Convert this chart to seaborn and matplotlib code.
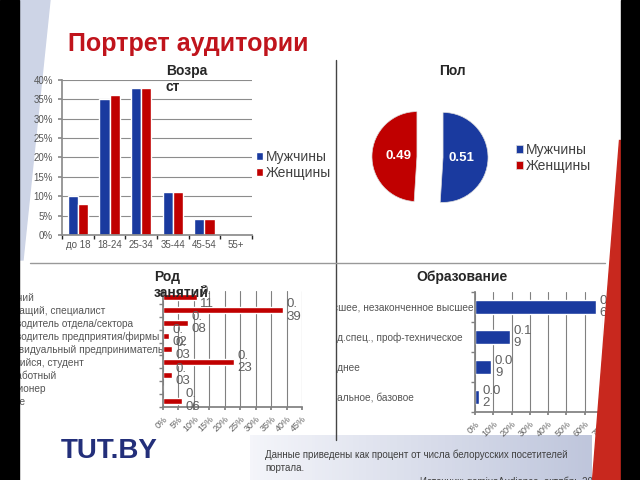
import numpy as np
import pandas as pd
import matplotlib
matplotlib.use("Agg")
import matplotlib.pyplot as plt
import seaborn as sns
from matplotlib.patches import Rectangle, Polygon
from matplotlib.lines import Line2D
from matplotlib.ticker import PercentFormatter
from matplotlib.colors import LinearSegmentedColormap

# Data
ages = ["до 18", "18-24", "25-34", "35-44", "45-54", "55+"]
male_age = [10, 35, 38, 11, 4, 0]
female_age = [8, 36, 38, 11, 4, 0]

sex_labels = ["Мужчины", "Женщины"]
sex_share = [0.51, 0.49]

occ = ["Рабочий", "Служащий, специалист", "Руководитель отдела/сектора",
       "Руководитель предприятия/фирмы", "Индивидуальный предприниматель",
       "Учащийся, студент", "Безработный", "Пенсионер", "Другое"]
occ_share = [0.11, 0.39, 0.08, 0.02, 0.03, 0.23, 0.03, 0.00, 0.06]

edu = ["Высшее, незаконченное высшее", "Сред.спец., проф-техническое",
       "Среднее", "Начальное, базовое"]
edu_share = [0.66, 0.19, 0.09, 0.02]

BLUE = "#1a3a9f"
RED = "#c00000"
GREY = "#555555"

sns.set_theme(style="white")
plt.rcParams['font.family'] = ['Liberation Sans', 'DejaVu Sans']

W, H = 640, 480
def fx(x): return x / W
def fy(y): return 1 - y / H
def box(x0, y0, x1, y1): return [x0 / W, 1 - y1 / H, (x1 - x0) / W, (y1 - y0) / H]

fig = plt.figure(figsize=(6.4, 4.8), dpi=100)

# slide decoration
fig.add_artist(Polygon([(fx(19), fy(0)), (fx(50), fy(0)), (fx(23), fy(260)), (fx(19), fy(260))],
                       closed=True, transform=fig.transFigure, color="#cdd4e6", zorder=-1))
band = fig.add_axes(box(250, 435, 592, 480), zorder=-1)
cmap = LinearSegmentedColormap.from_list("band", ["#f4f5fa", "#bfc6dc"])
band.imshow(np.linspace(0, 1, 100).reshape(1, -1), cmap=cmap, aspect="auto")
band.axis("off")

fig.text(fx(68), fy(51), "Портрет аудитории", fontsize=18, fontweight="bold",
         color="#c0141c", va="baseline")

# 1. Age
ax1 = fig.add_axes(box(62, 80, 252, 235))
age_df = pd.DataFrame({"age": ages * 2,
                       "sex": ["Мужчины"] * len(ages) + ["Женщины"] * len(ages),
                       "share": [v / 100 for v in male_age + female_age]})
sns.barplot(data=age_df, x="age", y="share", hue="sex", palette=[BLUE, RED],
            saturation=1, width=0.65, ax=ax1)
handles, labels = ax1.get_legend_handles_labels()
ax1.get_legend().remove()
ax1.set_ylim(0, 0.40)
ax1.set_yticks(np.arange(0, 0.401, 0.05))
ax1.yaxis.set_major_formatter(PercentFormatter(1, decimals=0))
ax1.grid(axis="y", color="#8c8c8c", lw=0.8)
ax1.set_axisbelow(True)
ax1.set_xlabel("")
ax1.set_ylabel("")
for s in ["top", "right"]:
    ax1.spines[s].set_visible(False)
for s in ["left", "bottom"]:
    ax1.spines[s].set_color("#8c8c8c")
ax1.set_xticks(np.arange(-0.5, len(ages), 1), minor=True)
ax1.tick_params(axis="both", labelsize=7, labelcolor=GREY, color="#8c8c8c")
ax1.tick_params(axis="y", left=True, length=3)
ax1.tick_params(axis="x", which="major", length=0)
ax1.tick_params(axis="x", which="minor", bottom=True, length=3)
fig.legend(handles, labels, loc="upper left", bbox_to_anchor=(fx(256), fy(150)),
           frameon=False, fontsize=10, handlelength=0.5, handleheight=0.5,
           handletextpad=0.2, labelspacing=0.15, borderaxespad=0, borderpad=0,
           labelcolor="#404040")
fig.text(fx(166), fy(64), "Возра\nст", fontsize=10, fontweight="bold", va="top")

# 2. Sex
ax2 = fig.add_axes(box(367, 94, 493, 220))
wedges, texts, autotexts = ax2.pie(
    sex_share, colors=[BLUE, RED], startangle=90, counterclock=False,
    explode=[0.29, 0.29], autopct=lambda p: f"{p / 100:.2f}", pctdistance=0.4,
    textprops=dict(color="white", fontsize=9.5, fontweight="bold"),
    wedgeprops=dict(edgecolor="#dddddd", linewidth=0.5))
ax2.set_xlim(-1.4, 1.4)
ax2.set_ylim(-1.4, 1.4)
ax2.set_aspect("equal")
fig.legend(wedges, sex_labels, loc="upper left", bbox_to_anchor=(fx(516), fy(143)),
           frameon=False, fontsize=10, handlelength=0.5, handleheight=0.5,
           handletextpad=0.2, labelspacing=0.15, borderaxespad=0, borderpad=0,
           labelcolor="#404040")
fig.text(fx(452), fy(64), "Пол", fontsize=10, fontweight="bold", va="top", ha="center")


def hbar(ax, cats, vals, color, xmax, step, x_axis, x_text, split):
    sns.barplot(x=vals, y=cats, color=color, saturation=1, width=0.47, orient="h", ax=ax)
    ax.set_xlim(0, xmax)
    ax.set_xticks(np.arange(0, xmax + 1e-9, step))
    ax.xaxis.set_major_formatter(PercentFormatter(1, decimals=0))
    ax.grid(axis="x", color="#808080", lw=0.8)
    ax.set_axisbelow(True)
    for s in ["top", "right"]:
        ax.spines[s].set_visible(False)
    for s in ["left", "bottom"]:
        ax.spines[s].set_color("#808080")
    ax.set_yticks(np.arange(-0.5, len(cats), 1), minor=True)
    ax.tick_params(axis="y", which="major", length=0, pad=(x_axis - x_text) * 0.72,
                   labelsize=7.3, labelcolor=GREY)
    ax.tick_params(axis="y", which="minor", left=True, length=3, color="#808080")
    ax.tick_params(axis="x", bottom=True, length=2, color="#808080",
                   labelsize=6.5, labelcolor="#606060")
    for lbl in ax.get_yticklabels():
        lbl.set_ha("left")
    plt.setp(ax.get_xticklabels(), rotation=45, ha="right", rotation_mode="anchor")
    for i, v in enumerate(vals):
        if v > 0:
            s = f"{v:.2f}"
            ax.annotate(s[:split] + "\n" + s[split:], xy=(v, i), xytext=(2.5, 0),
                        textcoords="offset points", va="center", ha="left",
                        fontsize=9.5, color="#606060", linespacing=1.05)


# 3. Occupation
ax3 = fig.add_axes(box(163, 291, 302, 407))
hbar(ax3, occ, occ_share, RED, 0.45, 0.05, 163, -6, 2)
fig.text(fx(154), fy(270), "Род\nзанятий", fontsize=10, fontweight="bold", va="top")

# 4. Education
ax4 = fig.add_axes(box(475, 292, 603, 412))
hbar(ax4, edu, edu_share, BLUE, 0.70, 0.10, 475, 319, 3)
fig.text(fx(462), fy(270), "Образование", fontsize=10, fontweight="bold", va="top", ha="center")

# masks and separators
fig.add_artist(Rectangle((fx(310), fy(412)), 26 / W, 122 / H, transform=fig.transFigure,
                         color="white", zorder=5))
fig.add_artist(Line2D([fx(336), fx(336)], [fy(60), fy(440)], transform=fig.transFigure,
                      color="#444444", lw=1, zorder=6))
fig.add_artist(Line2D([fx(30), fx(605)], [fy(263), fy(263)], transform=fig.transFigure,
                      color="#999999", lw=1, zorder=6))
fig.add_artist(Polygon([(fx(619), fy(140)), (fx(621), fy(140)), (fx(621), fy(480)), (fx(592), fy(480))],
                       closed=True, transform=fig.transFigure, color="#c8281e", zorder=10))
fig.add_artist(Rectangle((0, 0), 19 / W, 1, transform=fig.transFigure, color="black", zorder=10))
fig.add_artist(Rectangle((fx(621), 0), 19 / W, 1, transform=fig.transFigure, color="black", zorder=10))

# footer
fig.text(fx(61), fy(458), "TUT.BY", fontsize=20, fontweight="bold", color="#232f7a", va="baseline")
fig.text(fx(265), fy(450), "Данные приведены как процент от числа белорусских посетителей\nпортала.",
         fontsize=7, color="#404040", va="top", linespacing=1.35)
fig.text(fx(420), fy(485), "Источник: gemiusAudience, октябрь 2010", fontsize=7,
         color="#404040", va="baseline")

fig.savefig("out.png", dpi=100)
